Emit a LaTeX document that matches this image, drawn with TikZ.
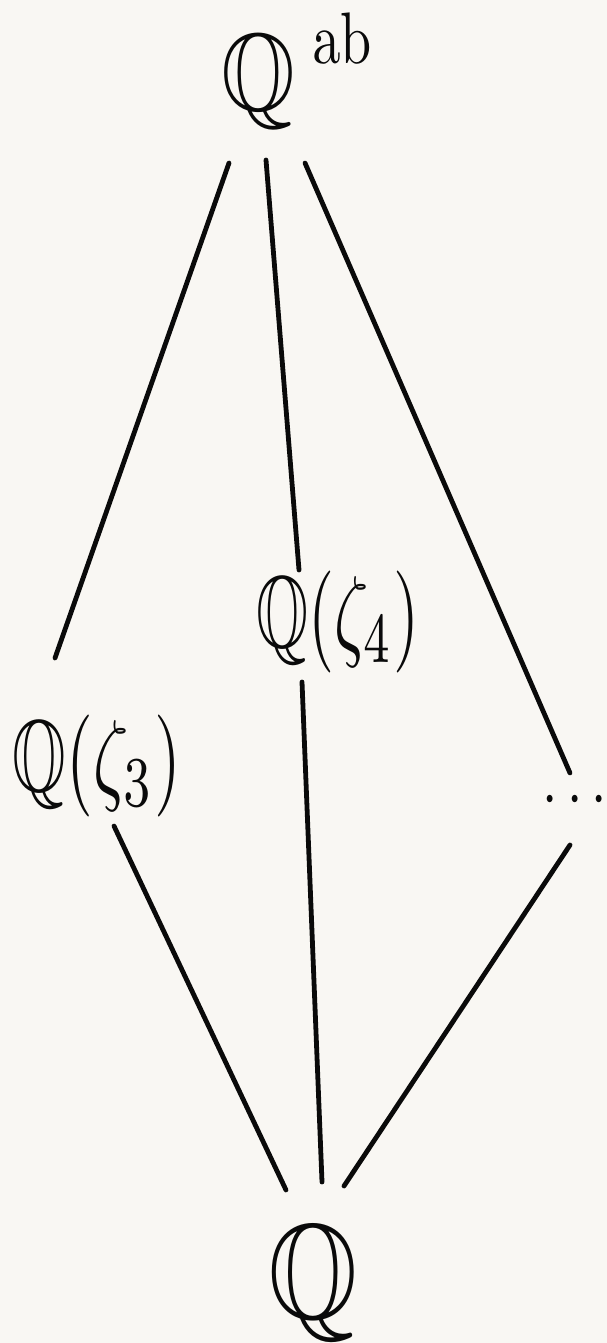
\documentclass[tikz,border=0pt]{standalone}
\usepackage{amssymb}
\usepackage{graphicx}
\definecolor{paper}{HTML}{F9F7F3}
\definecolor{ink}{HTML}{0A0A0A}
\tikzset{
  edge/.style={draw=ink, line width=4.8pt, line cap=round},
  lab/.style={text=ink, inner sep=0pt, anchor=center},
}
\begin{document}
\begin{tikzpicture}[x=1pt,y=-1pt]
\fill[paper] (0,0) rectangle (607,1343);
\useasboundingbox (0,0) rectangle (607,1343);
% labels
\node[lab] (qab) at (258,82) {\scalebox{9.5}[11]{$\mathbb{Q}$}};
\node[lab] (ab) at (342,38) {\scalebox{5.6}[7.3]{$\mathrm{ab}$}};
\node[lab] (z4) at (338,622) {\scalebox{6.7}[10.2]{$\mathbb{Q}(\zeta_4)$}};
\node[lab] (z3) at (97,766) {\scalebox{6.9}[10.2]{$\mathbb{Q}(\zeta_3)$}};
\node[lab] (dots) at (575,801) {\scalebox{5.5}[7]{$\cdots$}};
\node[lab] (q) at (313,1283) {\scalebox{11.5}[13.5]{$\mathbb{Q}$}};
% connector ends
\coordinate (a1) at (229,163); \coordinate (b1) at (55,658);
\coordinate (a2) at (266,160); \coordinate (b2) at (299,570);
\coordinate (a3) at (305,163); \coordinate (b3) at (570,773);
\coordinate (a4) at (114,826); \coordinate (b4) at (286,1190);
\coordinate (a5) at (302,682); \coordinate (b5) at (322,1182);
\coordinate (a6) at (570,845); \coordinate (b6) at (344,1186);
\draw[edge] (a1) -- (b1);
\draw[edge] (a2) -- (b2);
\draw[edge] (a3) -- (b3);
\draw[edge] (a4) -- (b4);
\draw[edge] (a5) -- (b5);
\draw[edge] (a6) -- (b6);
\end{tikzpicture}
\end{document}
